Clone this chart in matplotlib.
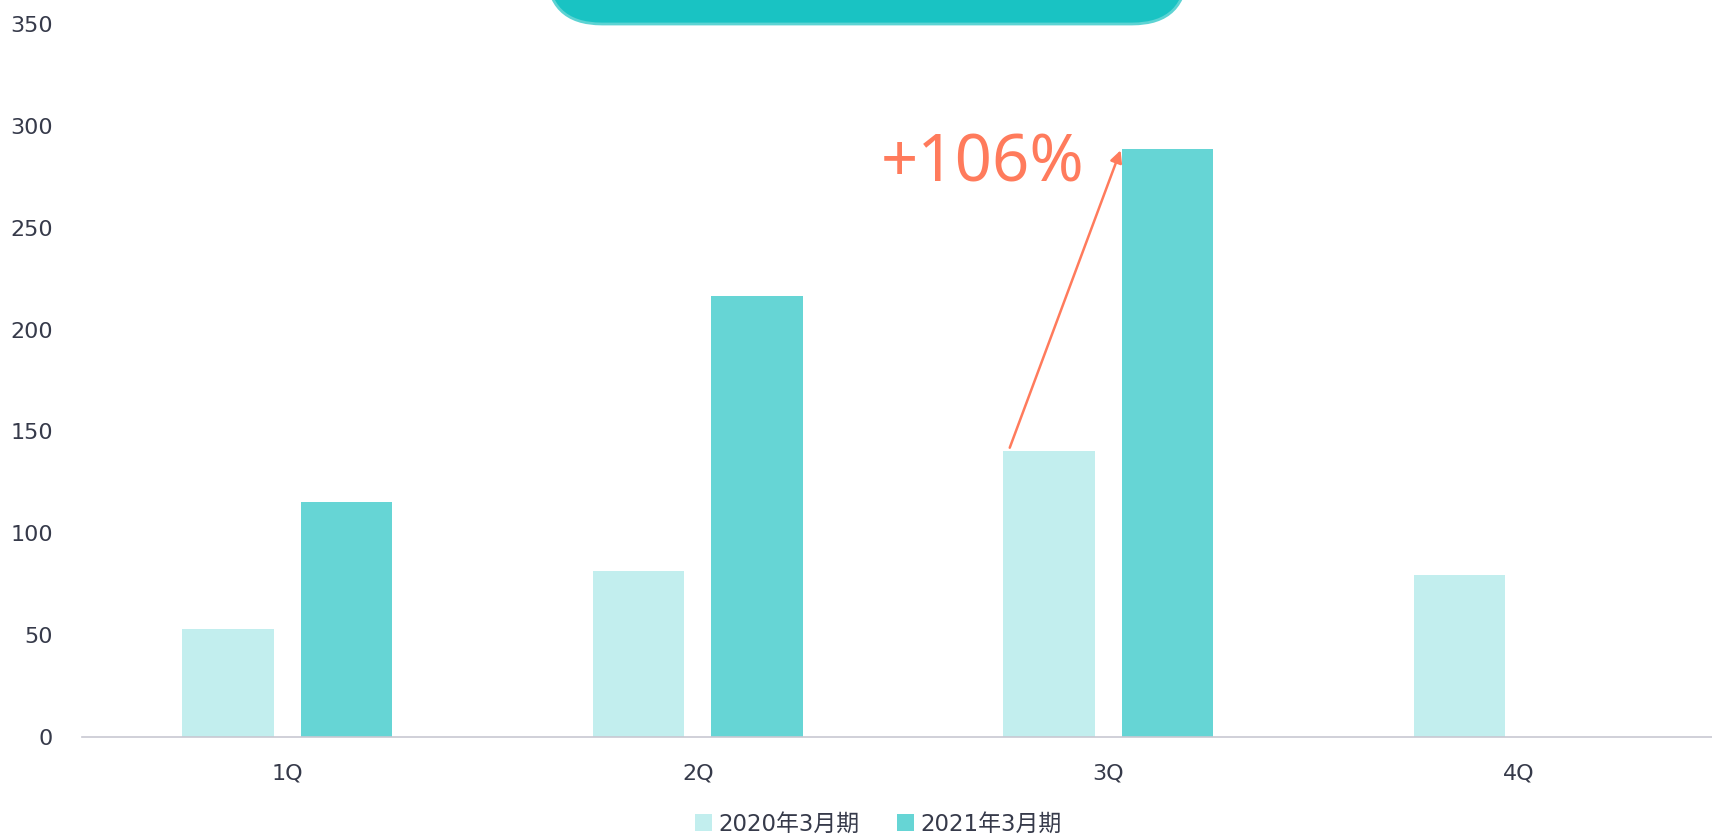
import matplotlib.pyplot as plt
from matplotlib.patches import FancyBboxPatch
import numpy as np

plt.rcParams['font.family'] = ['DejaVu Sans', 'Noto Sans CJK JP']

# Data
quarters = ['1Q', '2Q', '3Q', '4Q']
fy2020 = [53, 81.5, 140.5, 79.5]
fy2021 = [115.5, 216.5, 288.5, np.nan]
series_names = ['2020年3月期', '2021年3月期']
growth_label = '+106%'

light = '#C2EEEE'
dark = '#66D5D5'
accent = '#FF7B5C'
text_col = '#363A4A'

fig = plt.figure(figsize=(17.12, 8.35), dpi=100)

# overlay in pixel units for the banner
bg = fig.add_axes([0, 0, 1, 1])
bg.set_xlim(0, 1712)
bg.set_ylim(835, 0)
bg.axis('off')
banner = FancyBboxPatch((547, -90), 640, 114,
                        boxstyle='round,pad=0,rounding_size=55',
                        facecolor='#19C3C3', edgecolor='#5DD3D3', linewidth=2)
bg.add_patch(banner)

ax = fig.add_axes([82 / 1712, 98 / 835, 1642 / 1712, 713 / 835])
ax.patch.set_alpha(0)

x = np.arange(len(quarters))
w = 0.223
off = 0.144
ax.bar(x - off, fy2020, w, color=light, label=series_names[0])
ax.bar(x + off, fy2021, w, color=dark, label=series_names[1])

ax.set_xlim(-0.5, 3.5)
ax.set_ylim(0, 350)
ax.set_yticks(range(0, 351, 50))
ax.set_xticks(x)
ax.set_xticklabels(quarters)
ax.tick_params(axis='both', length=0, labelsize=16, colors=text_col)
ax.tick_params(axis='x', pad=19)
ax.tick_params(axis='y', pad=21)
for s in ['top', 'right', 'left']:
    ax.spines[s].set_visible(False)
ax.spines['bottom'].set_color('#C8C8D2')
ax.spines['bottom'].set_linewidth(1.2)

# growth arrow 3Q
ax.annotate('', xy=(2 + 0.03, 288), xytext=(2 - 0.24, 142),
            arrowprops=dict(arrowstyle='-|>', color=accent, lw=1.8,
                            mutation_scale=18, shrinkA=0, shrinkB=0))
ax.text(1.695, 281, growth_label, color=accent, fontsize=47,
        family=['Noto Sans', 'DejaVu Sans'], ha='center', va='center')

leg = fig.legend(loc='center', bbox_to_anchor=(0.513, 0.013), ncol=2, frameon=False,
                 fontsize=16.5, handlelength=0.75, handleheight=0.75, handletextpad=0.3,
                 columnspacing=1.6)
for t in leg.get_texts():
    t.set_color(text_col)

fig.savefig('out.png', dpi=100)
